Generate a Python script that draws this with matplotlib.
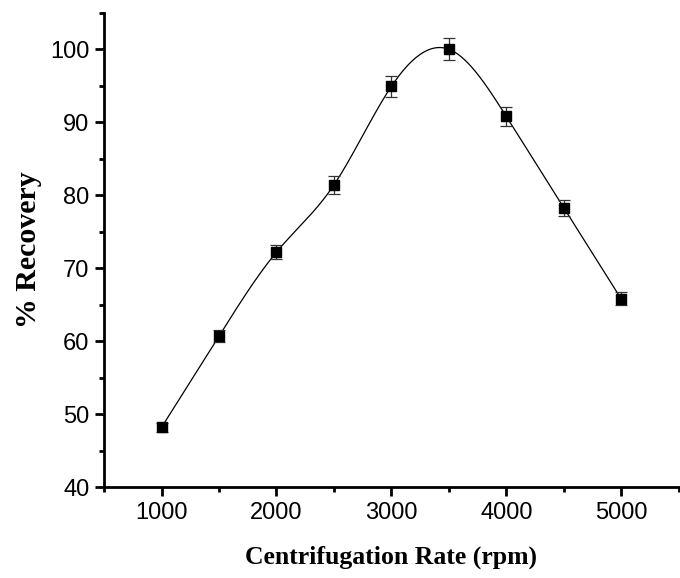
import matplotlib
matplotlib.use("Agg")
import matplotlib.pyplot as plt
import numpy as np
from matplotlib.ticker import MultipleLocator

# ─── Datos ────────────────────────────────────────────────────────────────────
rate = [1000, 1500, 2000, 2500, 3000, 3500, 4000, 4500, 5000]
recovery = [48.2, 60.7, 72.2, 81.4, 94.9, 100.0, 90.8, 78.3, 65.8]
err = [0.6, 0.8, 1.0, 1.2, 1.4, 1.5, 1.3, 1.1, 0.9]


def spline_natural(x, y, xs):
    # spline cubico natural para la curva suave
    x = np.asarray(x, float)
    y = np.asarray(y, float)
    n = len(x)
    h = np.diff(x)
    A = np.zeros((n, n))
    b = np.zeros(n)
    A[0, 0] = A[-1, -1] = 1.0
    for i in range(1, n - 1):
        A[i, i - 1] = h[i - 1]
        A[i, i] = 2 * (h[i - 1] + h[i])
        A[i, i + 1] = h[i]
        b[i] = 3 * ((y[i + 1] - y[i]) / h[i] - (y[i] - y[i - 1]) / h[i - 1])
    c = np.linalg.solve(A, b)
    out = np.empty_like(xs)
    for k, xv in enumerate(xs):
        i = min(max(np.searchsorted(x, xv) - 1, 0), n - 2)
        dx = xv - x[i]
        bi = (y[i + 1] - y[i]) / h[i] - h[i] * (2 * c[i] + c[i + 1]) / 3
        di = (c[i + 1] - c[i]) / (3 * h[i])
        out[k] = y[i] + bi * dx + c[i] * dx ** 2 + di * dx ** 3
    return out


xs = np.linspace(rate[0], rate[-1], 400)
ys = spline_natural(rate, recovery, xs)

fig = plt.figure(figsize=(6.8, 5.78), dpi=100)
ax = fig.add_axes([0.153, 0.157, 0.845, 0.821])

ax.plot(xs, ys, color="black", lw=0.9, zorder=2)
ax.errorbar(rate, recovery, yerr=err, fmt="s", color="black", ms=7,
            ecolor="#333333", elinewidth=0.9, capsize=4, capthick=0.9, zorder=3)

ax.set_xlim(500, 5500)
ax.set_ylim(40, 105)
ax.xaxis.set_major_locator(MultipleLocator(1000))
ax.xaxis.set_minor_locator(MultipleLocator(500))
ax.yaxis.set_major_locator(MultipleLocator(10))
ax.yaxis.set_minor_locator(MultipleLocator(5))

for s in ["top", "right"]:
    ax.spines[s].set_visible(False)
for s in ["left", "bottom"]:
    ax.spines[s].set_linewidth(2)

ax.tick_params(which="major", direction="out", length=6.5, width=2,
               labelsize=17, pad=4)
ax.tick_params(which="minor", direction="out", length=3.5, width=2)
for lab in ax.get_xticklabels() + ax.get_yticklabels():
    lab.set_fontfamily("Liberation Sans")

ax.set_xlabel("Centrifugation Rate (rpm)", fontsize=18.5, fontweight="bold",
              fontfamily="Liberation Serif", labelpad=16)
ax.set_ylabel("% Recovery", fontsize=21.5, fontweight="bold",
              fontfamily="Liberation Serif", labelpad=6)

fig.savefig("out.png", dpi=100)
